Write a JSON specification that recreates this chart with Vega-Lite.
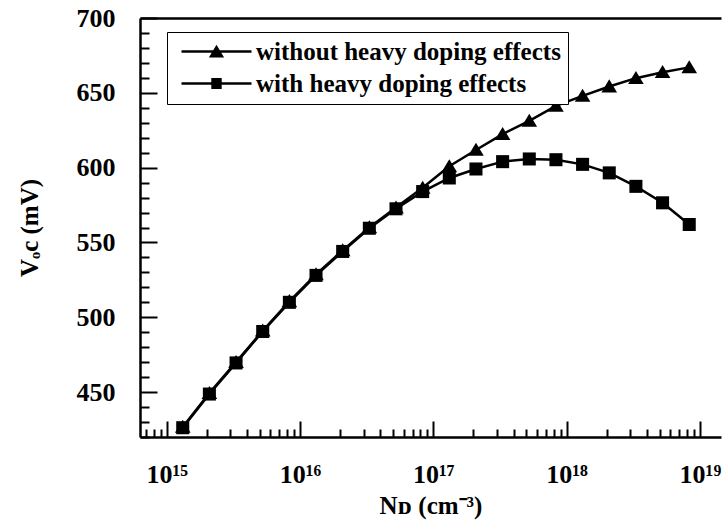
{
  "$schema": "https://vega.github.io/schema/vega-lite/v6.json",
  "width": 581,
  "height": 419,
  "autosize": {"type": "none"},
  "padding": {"left": 140, "top": 18, "right": 1, "bottom": 89},
  "background": "white",
  "config": {
    "view": {"stroke": null},
    "font": "Liberation Serif",
    "axis": {
      "domainColor": "black", "domainWidth": 2.5, "tickColor": "black", "tickWidth": 2,
      "labelFont": "Liberation Serif", "labelFontWeight": "bold", "labelFontSize": 26, "labelColor": "black",
      "titleFont": "Liberation Serif", "titleFontWeight": "bold", "titleFontSize": 25, "titleColor": "black",
      "grid": false, "labelOverlap": false
    }
  },
  "data": {"values": [
    {"nd": 1.318e15, "voc": 426.7, "series": "without heavy doping effects"},
    {"nd": 2.089e15, "voc": 449.3, "series": "without heavy doping effects"},
    {"nd": 3.311e15, "voc": 470.0, "series": "without heavy doping effects"},
    {"nd": 5.248e15, "voc": 491.0, "series": "without heavy doping effects"},
    {"nd": 8.318e15, "voc": 510.7, "series": "without heavy doping effects"},
    {"nd": 1.318e16, "voc": 528.7, "series": "without heavy doping effects"},
    {"nd": 2.089e16, "voc": 544.7, "series": "without heavy doping effects"},
    {"nd": 3.311e16, "voc": 560.0, "series": "without heavy doping effects"},
    {"nd": 5.248e16, "voc": 573.3, "series": "without heavy doping effects"},
    {"nd": 8.318e16, "voc": 586.5, "series": "without heavy doping effects"},
    {"nd": 1.318e17, "voc": 600.9, "series": "without heavy doping effects"},
    {"nd": 2.089e17, "voc": 611.8, "series": "without heavy doping effects"},
    {"nd": 3.311e17, "voc": 622.4, "series": "without heavy doping effects"},
    {"nd": 5.248e17, "voc": 631.3, "series": "without heavy doping effects"},
    {"nd": 8.318e17, "voc": 641.3, "series": "without heavy doping effects"},
    {"nd": 1.318e18, "voc": 648.0, "series": "without heavy doping effects"},
    {"nd": 2.089e18, "voc": 654.2, "series": "without heavy doping effects"},
    {"nd": 3.311e18, "voc": 659.8, "series": "without heavy doping effects"},
    {"nd": 5.248e18, "voc": 663.8, "series": "without heavy doping effects"},
    {"nd": 8.318e18, "voc": 667.0, "series": "without heavy doping effects"},
    {"nd": 1.318e15, "voc": 426.2, "series": "with heavy doping effects"},
    {"nd": 2.089e15, "voc": 448.7, "series": "with heavy doping effects"},
    {"nd": 3.311e15, "voc": 469.5, "series": "with heavy doping effects"},
    {"nd": 5.248e15, "voc": 490.5, "series": "with heavy doping effects"},
    {"nd": 8.318e15, "voc": 510.0, "series": "with heavy doping effects"},
    {"nd": 1.318e16, "voc": 528.0, "series": "with heavy doping effects"},
    {"nd": 2.089e16, "voc": 544.0, "series": "with heavy doping effects"},
    {"nd": 3.311e16, "voc": 559.5, "series": "with heavy doping effects"},
    {"nd": 5.248e16, "voc": 572.5, "series": "with heavy doping effects"},
    {"nd": 8.318e16, "voc": 584.0, "series": "with heavy doping effects"},
    {"nd": 1.318e17, "voc": 593.1, "series": "with heavy doping effects"},
    {"nd": 2.089e17, "voc": 599.1, "series": "with heavy doping effects"},
    {"nd": 3.311e17, "voc": 604.0, "series": "with heavy doping effects"},
    {"nd": 5.248e17, "voc": 605.8, "series": "with heavy doping effects"},
    {"nd": 8.318e17, "voc": 605.3, "series": "with heavy doping effects"},
    {"nd": 1.318e18, "voc": 602.2, "series": "with heavy doping effects"},
    {"nd": 2.089e18, "voc": 596.5, "series": "with heavy doping effects"},
    {"nd": 3.311e18, "voc": 587.5, "series": "with heavy doping effects"},
    {"nd": 5.248e18, "voc": 576.5, "series": "with heavy doping effects"},
    {"nd": 8.318e18, "voc": 562.0, "series": "with heavy doping effects"}
  ]},
  "resolve": {"scale": {"shape": "independent"}, "axis": {"x": "independent"}},
  "encoding": {
    "y": {"field": "voc", "type": "quantitative",
      "scale": {"domain": [420, 700], "nice": false, "zero": false},
      "axis": {
        "title": "Vₒc (mV)",
        "values": [420, 430, 440, 450, 460, 470, 480, 490, 500, 510, 520, 530, 540, 550, 560, 570, 580, 590, 600, 610, 620, 630, 640, 650, 660, 670, 680, 690, 700],
        "labelExpr": "datum.value % 50 === 0 ? datum.label : ''",
        "labelOverlap": false,
        "tickSize": {"condition": {"test": "datum.value % 50 === 0", "value": -17}, "value": -9},
        "labelPadding": 42,
        "titlePadding": 34
      }}
  },
  "layer": [
    {
      "mark": {"type": "line", "color": "black", "strokeWidth": 2.5},
      "encoding": {
        "x": {"field": "nd", "type": "quantitative",
          "scale": {"type": "log", "domain": [6.3e14, 1.44e19], "nice": false},
          "axis": {
            "title": "Nᴅ (cm⁻³)",
            "values": [7e14, 8e14, 9e14, 1e15, 2e15, 3e15, 4e15, 5e15, 6e15, 7e15, 8e15, 9e15, 1e16, 2e16, 3e16, 4e16, 5e16, 6e16, 7e16, 8e16, 9e16, 1e17, 2e17, 3e17, 4e17, 5e17, 6e17, 7e17, 8e17, 9e17, 1e18, 2e18, 3e18, 4e18, 5e18, 6e18, 7e18, 8e18, 9e18, 1e19],
            "labelExpr": "abs(log(datum.value)/LN10 - round(log(datum.value)/LN10)) < 0.001 ? (round(log(datum.value)/LN10) == 15 ? '10¹⁵' : round(log(datum.value)/LN10) == 16 ? '10¹⁶' : round(log(datum.value)/LN10) == 17 ? '10¹⁷' : round(log(datum.value)/LN10) == 18 ? '10¹⁸' : '10¹⁹') : ''",
            "labelOverlap": false,
            "tickSize": {"condition": {"test": "abs(log(datum.value)/LN10 - round(log(datum.value)/LN10)) < 0.001", "value": -16}, "value": -8},
            "labelPadding": 40,
            "titlePadding": -2
          }},
        "detail": {"field": "series"}
      }
    },
    {
      "mark": {"type": "point", "filled": true, "color": "black", "opacity": 1, "size": 170},
      "encoding": {
        "x": {"field": "nd", "type": "quantitative", "axis": null},
        "shape": {"field": "series", "type": "nominal", "legend": null,
          "scale": {"domain": ["without heavy doping effects", "with heavy doping effects"], "range": ["M0,-1.1L1.2,0.9L-1.2,0.9Z", "square"]}}
      }
    },
    {
      "transform": [{"filter": "datum.voc < 0"}],
      "mark": {"type": "point", "filled": true, "color": "black", "opacity": 1},
      "encoding": {
        "x": {"field": "nd", "type": "quantitative", "axis": {"orient": "top", "labels": false, "ticks": false, "title": null, "domainWidth": 2.5}},
        "shape": {"field": "series", "type": "nominal",
          "scale": {"domain": ["without heavy doping effects", "with heavy doping effects"],
            "range": ["M-0.625,-0.15L8.125,-0.15L8.125,0.15L-0.625,0.15ZM3.75,-0.85L4.7,0.75L2.8,0.75Z", "M-0.625,-0.15L8.125,-0.15L8.125,0.15L-0.625,0.15ZM3.1,-0.68L4.4,-0.68L4.4,0.68L3.1,0.68Z"]},
          "legend": {
            "title": null, "orient": "none", "legendX": 27, "legendY": 14,
            "strokeColor": "black", "fillColor": "white", "padding": 7,
            "labelFont": "Liberation Serif", "labelFontWeight": "bold", "labelFontSize": 25, "labelColor": "black", "labelLimit": 0,
            "symbolSize": 256, "labelOffset": 57, "rowPadding": 6
          }}
      }
    }
  ]
}
